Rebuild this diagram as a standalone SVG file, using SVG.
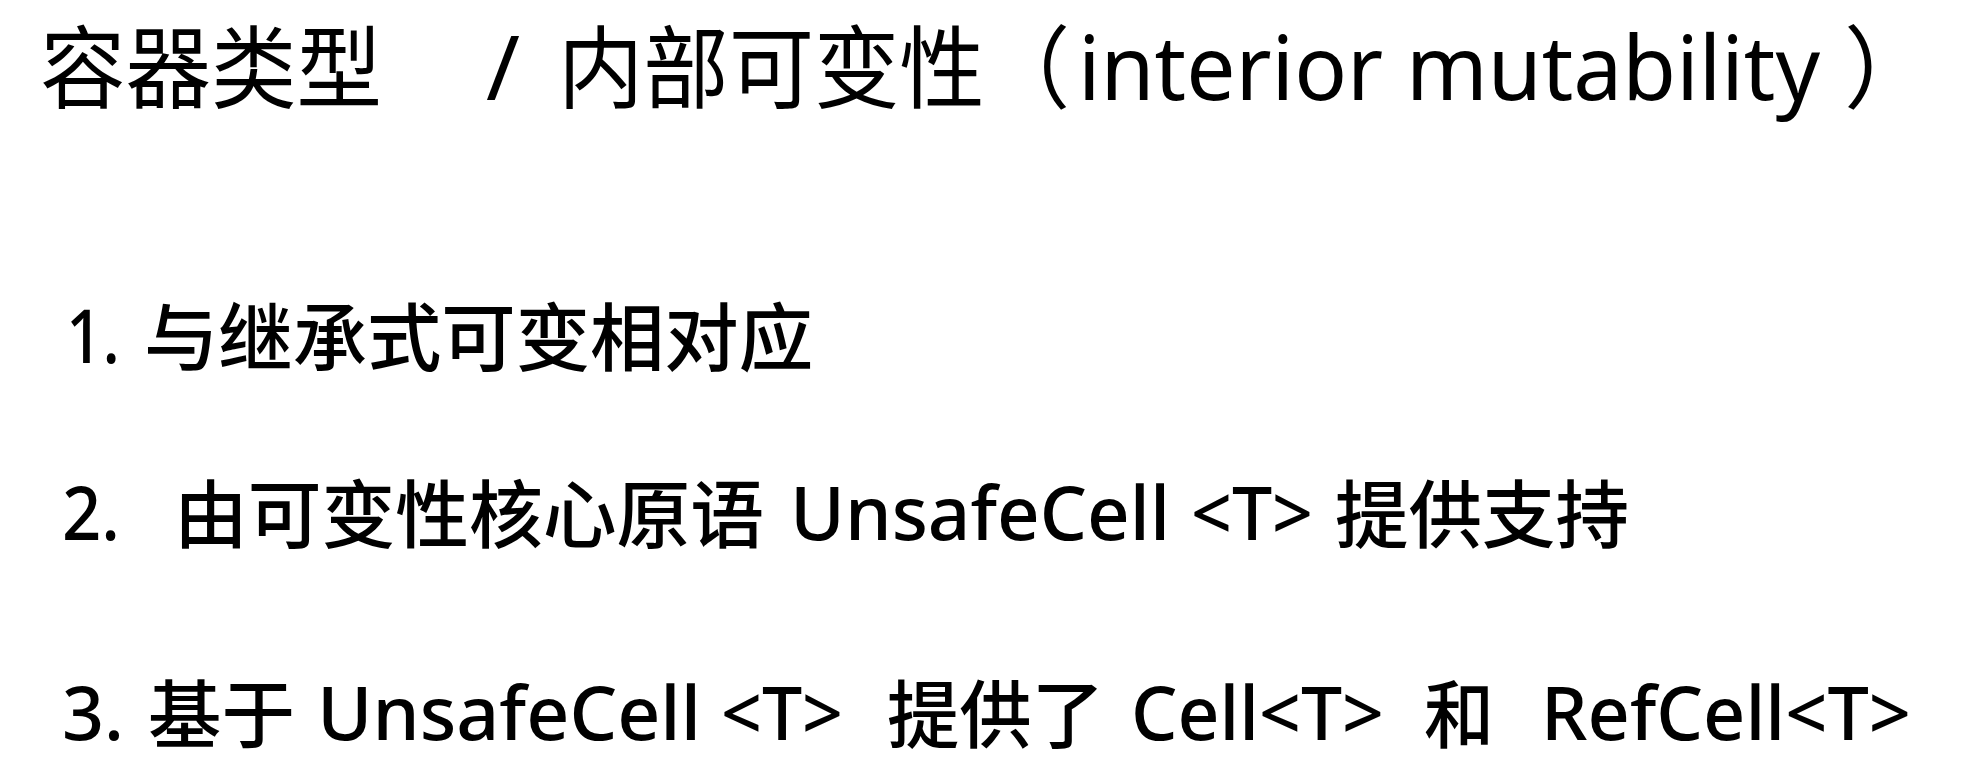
<svg xmlns="http://www.w3.org/2000/svg" width="1961" height="767" viewBox="0 0 1961 767">
<style>
text{font-family:"Noto Sans","Noto Sans CJK SC",sans-serif;fill:#000;}
.t{font-size:90px;}
.tc{font-size:90px;font-family:"Noto Sans CJK SC",sans-serif;}
.b{font-size:74px;font-weight:500;}
.bc{font-size:74px;font-weight:500;font-family:"Noto Sans CJK SC",sans-serif;}
</style>
<rect width="1961" height="767" fill="#fff"/>
<g id="title">
<text class="tc" x="40" y="101" textLength="342" lengthAdjust="spacingAndGlyphs">容器类型</text>
<text class="t" x="486" y="100" textLength="34" lengthAdjust="spacingAndGlyphs">/</text>
<text class="tc" x="558" y="101" textLength="512" lengthAdjust="spacingAndGlyphs">内部可变性（</text>
<text class="t" x="1078" y="100" textLength="742" lengthAdjust="spacingAndGlyphs">interior mutability</text>
<text class="tc" x="1844" y="101">）</text>
</g>
<g id="item1">
<text class="b" x="66" y="363" textLength="54" lengthAdjust="spacingAndGlyphs">1.</text>
<text class="bc" x="144" y="365" textLength="669" lengthAdjust="spacingAndGlyphs">与继承式可变相对应</text>
</g>
<g id="item2">
<text class="b" x="62" y="540" textLength="58" lengthAdjust="spacingAndGlyphs">2.</text>
<text class="bc" x="174" y="542" textLength="590" lengthAdjust="spacingAndGlyphs">由可变性核心原语</text>
<text class="b" x="790" y="540" textLength="380" lengthAdjust="spacingAndGlyphs">UnsafeCell</text>
<text class="b" x="1191" y="540" textLength="122" lengthAdjust="spacingAndGlyphs">&lt;T&gt;</text>
<text class="bc" x="1335" y="542" textLength="294" lengthAdjust="spacingAndGlyphs">提供支持</text>
</g>
<g id="item3">
<text class="b" x="62" y="740" textLength="62" lengthAdjust="spacingAndGlyphs">3.</text>
<text class="bc" x="148" y="742" textLength="147" lengthAdjust="spacingAndGlyphs">基于</text>
<text class="b" x="317" y="740" textLength="384" lengthAdjust="spacingAndGlyphs">UnsafeCell</text>
<text class="b" x="721" y="740" textLength="122" lengthAdjust="spacingAndGlyphs">&lt;T&gt;</text>
<text class="bc" x="887" y="742" textLength="217" lengthAdjust="spacingAndGlyphs">提供了</text>
<text class="b" x="1131" y="740" textLength="253" lengthAdjust="spacingAndGlyphs">Cell&lt;T&gt;</text>
<text class="bc" x="1424" y="742" textLength="70" lengthAdjust="spacingAndGlyphs">和</text>
<text class="b" x="1541" y="740" textLength="370" lengthAdjust="spacingAndGlyphs">RefCell&lt;T&gt;</text>
</g>
</svg>
